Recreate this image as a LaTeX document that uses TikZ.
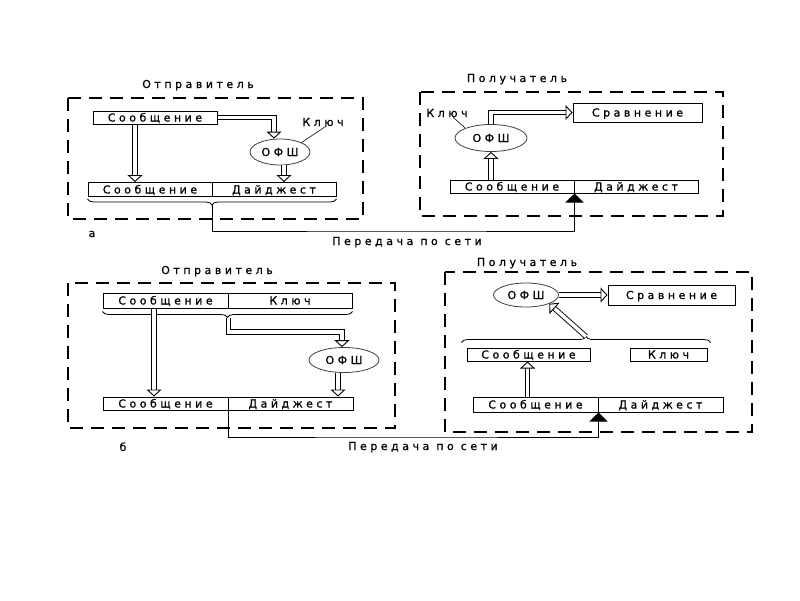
\documentclass[tikz,border=0pt]{standalone}
\usepackage{fontspec}
\setmainfont{DejaVu Sans}
\newfontfamily\lf[LetterSpace=32,FakeBold=0.8]{DejaVu Sans}
\usetikzlibrary{arrows.meta,decorations.pathreplacing,shapes.geometric,calc}
\begin{document}
\begin{tikzpicture}[x=1pt,y=-1pt,
  every node/.style={font=\lf\fontsize{11}{13}\selectfont, inner sep=0pt, text height=8pt, text depth=0pt},
  cell/.style={draw, line width=1pt, minimum height=13pt, anchor=center},
  ofs/.style={draw=black!75, ellipse, line width=0.8pt, text=black},
  frame/.style={draw, line width=1.1pt, dash pattern=on 13pt off 8pt},
  harrow/.style={draw, double, double distance=3.5pt, line width=0.9pt, -{Triangle[open,length=7pt,width=15pt]}},
  net/.style={draw, line width=0.9pt},
  netarrow/.style={net, -{Triangle[length=9pt,width=18pt]}},
  brc/.style={draw, line width=0.8pt, decorate, decoration={brace, amplitude=6pt}},
  thinline/.style={draw, line width=0.6pt}
]
\useasboundingbox[fill=white] (0,0) rectangle (800,600);

% ---------------- (a) sender ----------------
\node (sndA) at (198,84) {Отправитель};
\draw[frame] (68,98) rectangle (363,219);
\node[cell, minimum width=124pt] (msgA) at (155,117.5) {Сообщение};
\node[cell, minimum width=124pt, minimum height=14pt] (mA1) at (150,189.5) {Сообщение};
\node[cell, minimum width=124pt, minimum height=14pt] (dA1) at (274,189.5) {Дайджест};
\node[ofs, minimum width=60pt, minimum height=26pt] (ofsA) at (280,152) {ОФШ};
\node (keyA) at (323,122) {Ключ};
\draw[thinline] ([xshift=3pt]keyA.south) -- (ofsA.north east);
\draw[harrow] (msgA.east) -| ([xshift=-6pt]ofsA.north);
\coordinate (a1) at ([xshift=-20pt]msgA.south);
\draw[harrow] (a1) -- (a1 |- mA1.north);
\coordinate (a2) at ([xshift=4pt]ofsA.south);
\draw[harrow] (a2) -- (a2 |- dA1.north);
\draw[brc] ([yshift=-2pt]dA1.south east) -- ([yshift=-2pt]mA1.south west);
\coordinate (tipA) at ([yshift=-8pt]mA1.south east);
\node (labA) at (92,233) {а};

% ---------------- (a) receiver ----------------
\node (rcvA) at (517,78) {Получатель};
\draw[frame] (420,92) rectangle (723,216);
\node[cell, minimum width=129pt, minimum height=19pt] (cmpA) at (637.5,112.5) {Сравнение};
\node[ofs, minimum width=72pt, minimum height=27pt] (ofsRA) at (491,138) {ОФШ};
\node (keyRA) at (447,113) {Ключ};
\draw[thinline] ([xshift=6pt]keyRA.south) -- (ofsRA.north west);
\draw[harrow] (ofsRA.north) |- (cmpA.west);
\node[cell, minimum width=124pt] (mR1) at (512,186.5) {Сообщение};
\node[cell, minimum width=124pt] (dR1) at (636,186.5) {Дайджест};
\draw[harrow] (mR1.north -| ofsRA.south) -- (ofsRA.south);

\coordinate (bendA) at (400,231);
\draw[netarrow] (tipA) |- (bendA) -| (mR1.south east);
\node (netA) at (407,241) {Передача по сети};

% ---------------- (b) sender ----------------
\node (sndB) at (217,270) {Отправитель};
\draw[frame] (68,283) rectangle (395,428);
\node[cell, minimum width=125pt, minimum height=15pt] (msgB) at (165.5,300.5) {Сообщение};
\node[cell, minimum width=124pt, minimum height=15pt] (keyB) at (290,300.5) {Ключ};
\draw[brc] ([yshift=-3pt]keyB.south east) -- ([yshift=-3pt]msgB.south west);
\coordinate (tipB) at ([yshift=-9pt]msgB.south east);
\node[ofs, minimum width=70pt, minimum height=25pt] (ofsB) at (344,360) {ОФШ};
\coordinate (bB) at (342,332);
\draw[harrow] (tipB) |- (bB) -- (bB |- ofsB.north);
\node[cell, minimum width=125pt] (mB1) at (165.5,403.5) {Сообщение};
\node[cell, minimum width=125pt] (dB1) at (290.5,403.5) {Дайджест};
\coordinate (lB) at ([xshift=-11.5pt]msgB.south);
\draw[harrow] (lB) -- (lB |- mB1.north);
\coordinate (cB) at ([xshift=-6pt]ofsB.south);
\draw[harrow] (cB) -- (cB |- dB1.north);
\node (labB) at (123,447) {б};

% ---------------- (b) receiver ----------------
\node (rcvB) at (527,262) {Получатель};
\draw[frame] (445,272) rectangle (752,432);
\node[ofs, minimum width=65pt, minimum height=24pt] (ofsRB) at (526,295) {ОФШ};
\node[cell, minimum width=127pt, minimum height=20pt] (cmpB) at (671.5,295) {Сравнение};
\draw[harrow] (ofsRB.east) -- (cmpB.west);
\node[cell, minimum width=123pt] (msgRB) at (528.5,354.5) {Сообщение};
\node[cell, minimum width=77pt] (keyRB) at (668.5,354.5) {Ключ};
\draw[brc] ([xshift=-5pt,yshift=5pt]msgRB.north west) -- ([xshift=3pt,yshift=5pt]keyRB.north east);
\coordinate (tipRB) at ($(msgRB.north west)!0.5!(keyRB.north east)+(-1,-11)$);
\draw[harrow] (tipRB) -- (ofsRB.south east);
\node[cell, minimum width=125pt, minimum height=15pt] (mR2) at (535.5,404.5) {Сообщение};
\node[cell, minimum width=125pt, minimum height=15pt] (dR2) at (660.5,404.5) {Дайджест};
\coordinate (uB) at ([xshift=-8pt]mR2.north);
\draw[harrow] (uB) -- (uB |- msgRB.south);

\coordinate (bendB) at (400,437);
\draw[netarrow] (mB1.south east) |- (bendB) -| (mR2.south east);
\node (netB) at (423,446) {Передача по сети};
\end{tikzpicture}
\end{document}
